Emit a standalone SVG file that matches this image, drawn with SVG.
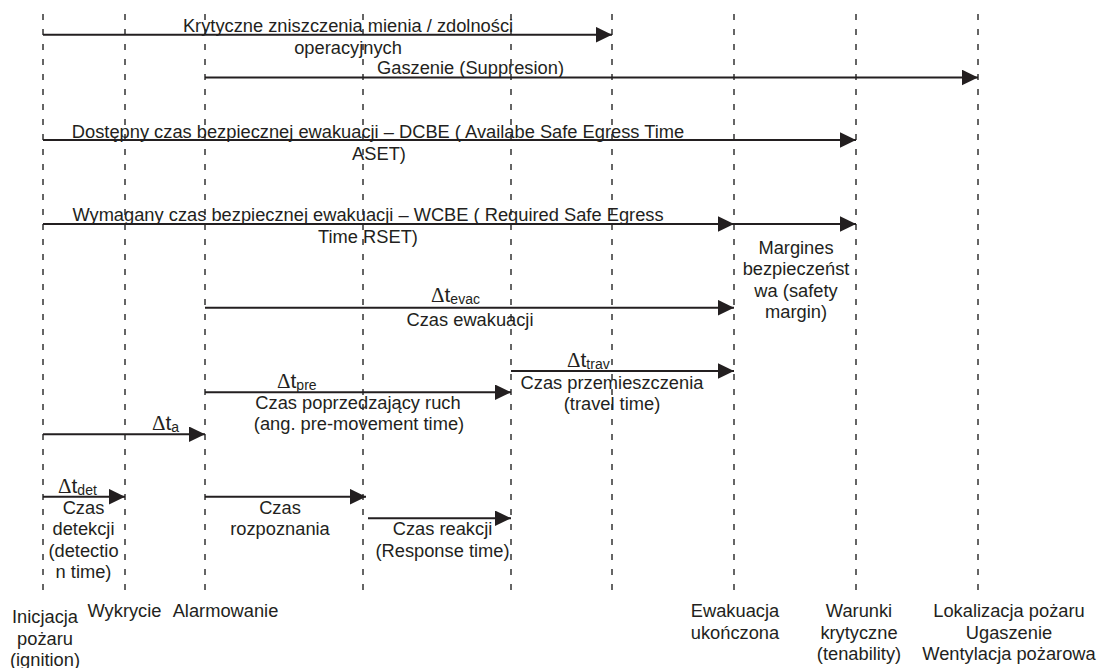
<svg xmlns="http://www.w3.org/2000/svg" width="1099" height="668" viewBox="0 0 1099 668">
<style>
.t{font-family:"Liberation Sans",Arial,sans-serif;font-size:18.3px;fill:#231f20;text-anchor:middle}
.d{font-family:"Liberation Sans",Arial,sans-serif;font-size:21px;fill:#231f20}
.g{font-family:"Liberation Serif","Times New Roman",serif}
.s{font-size:14px}
.dash{stroke:#333333;stroke-width:1.5;stroke-dasharray:6 9;fill:none}
.arr{stroke:#231f20;stroke-width:2;fill:none;marker-end:url(#ah)}
</style>
<defs>
<marker id="ah" markerUnits="userSpaceOnUse" markerWidth="16" markerHeight="16" refX="16" refY="7.8" orient="auto">
<path d="M0,0 L16,7.8 L0,15.6 z" fill="#231f20"/>
</marker>
</defs>
<rect width="1099" height="668" fill="#ffffff"/>
<g id="timelines">
<line class="dash" x1="43" y1="14" x2="43" y2="594"/>
<line class="dash" x1="125" y1="14" x2="125" y2="594"/>
<line class="dash" x1="205" y1="14" x2="205" y2="594"/>
<line class="dash" x1="363" y1="14" x2="363" y2="594"/>
<line class="dash" x1="511" y1="14" x2="511" y2="594"/>
<line class="dash" x1="612" y1="14" x2="612" y2="594"/>
<line class="dash" x1="734" y1="14" x2="734" y2="594"/>
<line class="dash" x1="856" y1="14" x2="856" y2="594"/>
<line class="dash" x1="978" y1="14" x2="978" y2="594"/>
</g>
<g id="connectors">
<line class="arr" x1="43" y1="34.7" x2="612" y2="34.7"/>
<line class="arr" x1="205" y1="77.5" x2="978" y2="77.5"/>
<line class="arr" x1="43" y1="140" x2="856" y2="140"/>
<line class="arr" x1="43" y1="224" x2="734" y2="224"/>
<line class="arr" x1="734" y1="224" x2="856" y2="224"/>
<line class="arr" x1="205" y1="307.7" x2="734" y2="307.7"/>
<line class="arr" x1="511" y1="371" x2="734" y2="371"/>
<line class="arr" x1="205" y1="392.3" x2="511" y2="392.3"/>
<line class="arr" x1="43" y1="434.3" x2="205" y2="434.3"/>
<line class="arr" x1="43" y1="496.7" x2="125" y2="496.7"/>
<line class="arr" x1="205" y1="496.7" x2="366" y2="496.7"/>
<line class="arr" x1="368" y1="518.3" x2="511" y2="518.3"/>
</g>
<g id="krytyczne">
<text class="t" x="348" y="32">Krytyczne zniszczenia mienia / zdolności</text>
<text class="t" x="348" y="53.5">operacyjnych</text>
</g>
<g id="gaszenie">
<text class="t" x="470.5" y="74">Gaszenie (Suppresion)</text>
</g>
<g id="dcbe">
<text class="t" x="378" y="137.5">Dostępny czas bezpiecznej ewakuacji – DCBE ( Availabe Safe Egress Time</text>
<text class="t" x="379" y="159.5">ASET)</text>
</g>
<g id="wcbe">
<text class="t" x="368" y="221">Wymagany czas bezpiecznej ewakuacji – WCBE ( Required Safe Egress</text>
<text class="t" x="368" y="242.5">Time RSET)</text>
</g>
<g id="margines">
<text class="t" x="796" y="254">Margines</text>
<text class="t" x="796" y="275">bezpieczeńst</text>
<text class="t" x="796" y="296.5">wa (safety</text>
<text class="t" x="796" y="317.5">margin)</text>
</g>
<g id="evac">
<text class="d" x="431" y="302"><tspan class="g">Δ</tspan>t<tspan class="s" dy="2">evac</tspan></text>
<text class="t" x="470" y="326">Czas ewakuacji</text>
</g>
<g id="trav">
<text class="d" x="567" y="367"><tspan class="g">Δ</tspan>t<tspan class="s" dy="2">trav</tspan></text>
<text class="t" x="612" y="389">Czas przemieszczenia</text>
<text class="t" x="612" y="410">(travel time)</text>
</g>
<g id="pre">
<text class="d" x="277" y="387.5"><tspan class="g">Δ</tspan>t<tspan class="s" dy="2">pre</tspan></text>
<text class="t" x="358" y="408.5">Czas poprzedzający ruch</text>
<text class="t" x="359" y="430">(ang. pre-movement time)</text>
</g>
<g id="ta">
<text class="d" x="152" y="430"><tspan class="g">Δ</tspan>t<tspan class="s" dy="2">a</tspan></text>
</g>
<g id="det">
<text class="d" x="58" y="493"><tspan class="g">Δ</tspan>t<tspan class="s" dy="2">det</tspan></text>
<text class="t" x="83.5" y="514">Czas</text>
<text class="t" x="83.5" y="535">detekcji</text>
<text class="t" x="83.5" y="556.5">(detectio</text>
<text class="t" x="83.5" y="578">n time)</text>
</g>
<g id="rozpoznanie">
<text class="t" x="280" y="514">Czas</text>
<text class="t" x="280" y="535">rozpoznania</text>
</g>
<g id="reakcja">
<text class="t" x="442.5" y="535">Czas reakcji</text>
<text class="t" x="442.5" y="556.5">(Response time)</text>
</g>
<g id="inicjacja">
<text class="t" x="45" y="623">Inicjacja</text>
<text class="t" x="45" y="644.5">pożaru</text>
<text class="t" x="45" y="666">(ignition)</text>
</g>
<g id="wykrycie">
<text class="t" x="124.5" y="617">Wykrycie</text>
</g>
<g id="alarmowanie">
<text class="t" x="225.5" y="617">Alarmowanie</text>
</g>
<g id="ewakuacja">
<text class="t" x="735" y="617">Ewakuacja</text>
<text class="t" x="735" y="638.5">ukończona</text>
</g>
<g id="warunki">
<text class="t" x="859" y="617">Warunki</text>
<text class="t" x="859" y="638.5">krytyczne</text>
<text class="t" x="859" y="660">(tenability)</text>
</g>
<g id="lokalizacja">
<text class="t" x="1009" y="617">Lokalizacja pożaru</text>
<text class="t" x="1009" y="638.5">Ugaszenie</text>
<text class="t" x="1009" y="660">Wentylacja pożarowa</text>
</g>
</svg>
